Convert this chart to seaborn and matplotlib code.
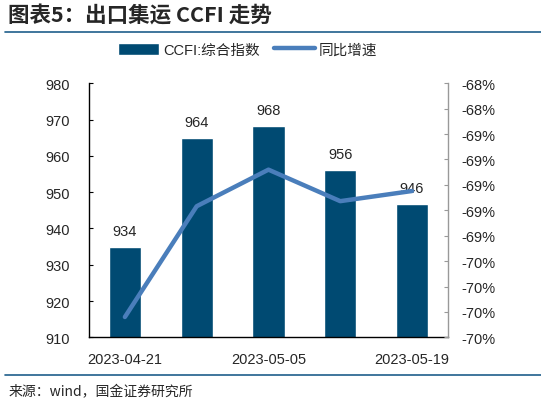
import numpy as np
import pandas as pd
import matplotlib
matplotlib.use("Agg")
import matplotlib.pyplot as plt
import seaborn as sns
from matplotlib.ticker import FixedLocator

# data
dates = ["2023-04-21", "2023-04-28", "2023-05-05", "2023-05-12", "2023-05-19"]
ccfi = [934.8, 964.8, 968.1, 956.2, 946.6]
ccfi_labels = ["934", "964", "968", "956", "946"]
yoy = [-70.30, -69.21, -68.85, -69.16, -69.06]
shown_dates = ["2023-04-21", "", "2023-05-05", "", "2023-05-19"]
right_ticks = [-68.0, -68.25, -68.5, -68.75, -69.0, -69.25, -69.5, -69.75, -70.0, -70.25, -70.5]
right_labels = ["-68%", "-68%", "-69%", "-69%", "-69%", "-69%", "-69%", "-70%", "-70%", "-70%", "-70%"]

df = pd.DataFrame({"date": dates, "ccfi": ccfi, "yoy": yoy})

sns.set_style("white")
plt.rcParams["font.family"] = ["Liberation Sans", "Noto Sans CJK SC", "DejaVu Sans"]

bar_col = "#004A72"
line_col = "#4A7EBB"

fig = plt.figure(figsize=(5.41, 4.06), dpi=100)
ax = fig.add_axes([0.1645, 0.1667, 0.6635, 0.6257])

sns.barplot(data=df, x="date", y="ccfi", color=bar_col, width=0.45, ax=ax,
            saturation=1, label="CCFI:综合指数")
if ax.get_legend() is not None:
    ax.get_legend().remove()
ax.set_ylim(910, 980)
ax.set_yticks(np.arange(910, 981, 10))
ax.set_xlim(-0.5, 4.5)
ax.set_xlabel("")
ax.set_ylabel("")
ax.set_xticks(range(5))
ax.set_xticklabels(shown_dates, fontsize=10.5)
ax.xaxis.set_minor_locator(FixedLocator([0.5, 1.5, 2.5, 3.5]))
ax.tick_params(axis="x", which="major", length=0, pad=10.5)
ax.tick_params(axis="x", which="minor", direction="in", length=4, width=0.8, color="black")
ax.tick_params(axis="y", which="major", labelsize=10.5, length=3, width=0.8,
               direction="in", color="black", pad=13.5)
for s in ["top", "right"]:
    ax.spines[s].set_visible(False)
for s in ["left", "bottom"]:
    ax.spines[s].set_color("black")
    ax.spines[s].set_linewidth(1)

for i, (v, lab) in enumerate(zip(ccfi, ccfi_labels)):
    ax.annotate(lab, (i, v), xytext=(0, 6.5), textcoords="offset points",
                ha="center", va="bottom", fontsize=10.5)

ax2 = ax.twinx()
sns.lineplot(x=np.arange(5), y=yoy, color=line_col, linewidth=3.2, ax=ax2,
             label="同比增速", legend=False)
ax2.set_ylim(-70.5, -68.0)
ax2.set_yticks(right_ticks)
ax2.set_yticklabels(right_labels)
ax2.tick_params(axis="y", labelsize=10.5, length=3, direction="in", color="#999999", pad=10)
ax2.set_ylabel("")
for s in ["top", "left", "bottom"]:
    ax2.spines[s].set_visible(False)
ax2.spines["right"].set_color("#999999")
ax2.spines["right"].set_linewidth(1)

h1, l1 = ax.get_legend_handles_labels()
h2, l2 = ax2.get_legend_handles_labels()
fig.legend(h1 + h2, l1 + l2, loc="center", bbox_to_anchor=(0.458, 0.875), ncol=2,
           frameon=False, fontsize=10.5, handlelength=2.8, handleheight=0.9,
           columnspacing=1.0, handletextpad=0.25)

# title and source
fig.text(0.015, 0.96, "图表5：出口集运 CCFI 走势", fontsize=15.5, fontweight="bold",
         style="italic", va="center", ha="left",
         family=["Noto Sans CJK SC", "DejaVu Sans"])
fig.add_artist(plt.Line2D([0.01, 1.0], [0.919, 0.919], color="#1F5F8B", linewidth=1.2))
fig.add_artist(plt.Line2D([0.01, 1.0], [0.074, 0.074], color="#1F5F8B", linewidth=1.2))
fig.text(0.015, 0.035, "来源：wind，国金证券研究所", fontsize=10, va="center", ha="left",
         family=["Noto Sans CJK SC", "DejaVu Sans"])

fig.savefig("out.png", dpi=100)
